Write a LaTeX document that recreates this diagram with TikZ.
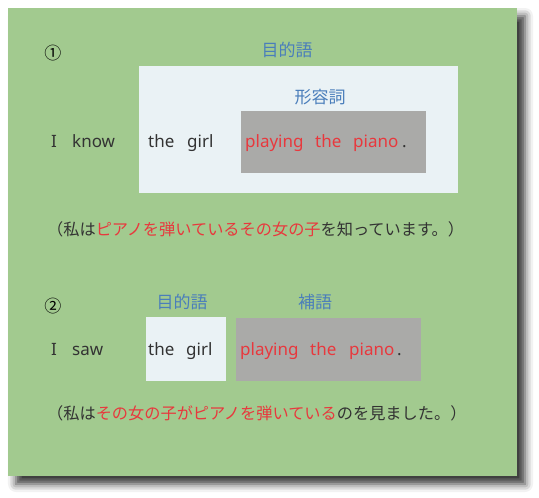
\documentclass[tikz,border=0pt]{standalone}
\usepackage{fontspec}
\setmainfont{Noto Sans}
\newfontfamily\jp{Noto Sans CJK JP}
\usetikzlibrary{shadows.blur}
\definecolor{panelgreen}{HTML}{A2CA8F}
\definecolor{boxlight}{HTML}{EAF2F5}
\definecolor{boxgrey}{HTML}{AAAAA8}
\definecolor{txtred}{HTML}{E8383D}
\definecolor{txtblue}{HTML}{4A7EBB}
\definecolor{txtdark}{HTML}{333333}
\begin{document}
\begin{tikzpicture}[x=1pt,y=-1pt,
  word/.style={anchor=base west, inner sep=0pt, font=\fontsize{17}{17}\selectfont, text=txtdark},
  redword/.style={word, text=txtred},
  lab/.style={anchor=center, inner sep=0pt, font=\jp\fontsize{17}{17}\selectfont, text=txtblue},
  jline/.style={anchor=west, inner sep=0pt, font=\jp\fontsize{16.2}{16.2}\selectfont, text=txtdark},
  num/.style={anchor=center, inner sep=0pt, font=\jp\fontsize{17}{17}\selectfont, text=black},
  lightbox/.style={fill=boxlight},
  greybox/.style={fill=boxgrey}]
\useasboundingbox (0,0) rectangle (539,498);
% panel with shadow
\fill[panelgreen, blur shadow={shadow xshift=8pt, shadow yshift=-8pt, shadow blur radius=8pt, shadow opacity=80}] (8,8) rectangle (517,476);
% boxes
\fill[lightbox] (139,66) rectangle (458,192.5);
\fill[greybox] (241,111) rectangle (426,172.5);
\fill[lightbox] (146,317) rectangle (226,380.5);
\fill[greybox] (236,318) rectangle (421,380.5);
% row 1
\node[num] (n1) at (53,53) {①};
\node[lab] (obj1) at (287,50) {目的語};
\node[lab] (adj1) at (320,97) {形容詞};
\node[word] (i1) at (51,147.3) {I};
\node[word] (know) at (72,147.3) {know};
\node[word] (the1) at (148,147.3) {the};
\node[word] (girl1) at (187,147.3) {girl};
\node[redword] (playing1) at (245,147.3) {playing};
\node[redword] (thep1) at (315,147.3) {the};
\node[redword] (piano1) at (353,147.3) {piano};
\node[word] (dot1) at (402,147.3) {.};
\node[jline] (jp1) at (47,229) {（私は\textcolor{txtred}{ピアノを弾いているその女の子}を知っています。）};
% row 2
\node[num] (n2) at (53,306) {②};
\node[lab] (obj2) at (182,302) {目的語};
\node[lab] (comp2) at (315,302) {補語};
\node[word] (i2) at (51,355) {I};
\node[word] (saw) at (72,355) {saw};
\node[word] (the2) at (148,355) {the};
\node[word] (girl2) at (186,355) {girl};
\node[redword] (playing2) at (240,355) {playing};
\node[redword] (thep2) at (310,355) {the};
\node[redword] (piano2) at (349,355) {piano};
\node[word] (dot2) at (397,355) {.};
\node[jline] (jp2) at (47,413) {（私は\textcolor{txtred}{その女の子がピアノを弾いている}のを見ました。）};
\end{tikzpicture}
\end{document}
